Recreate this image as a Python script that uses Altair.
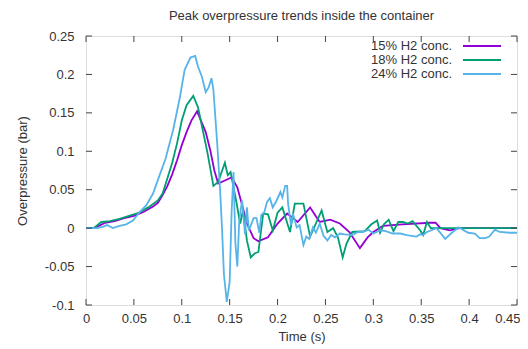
import altair as alt
import pandas as pd

# ---- data ----
t15 = [0, 0.008, 0.015, 0.02, 0.03, 0.04, 0.05, 0.06, 0.07, 0.075, 0.08, 0.085, 0.09, 0.095, 0.1, 0.105, 0.11, 0.116, 0.12, 0.125,
       0.13, 0.134, 0.138, 0.145, 0.152, 0.158, 0.163, 0.168, 0.175, 0.18, 0.19, 0.2, 0.21, 0.221, 0.234, 0.244, 0.255, 0.265, 0.275, 0.286,
       0.294, 0.3, 0.31, 0.33, 0.359, 0.365, 0.37, 0.38, 0.39, 0.45]
p15 = [0, 0, 0.004, 0.007, 0.009, 0.013, 0.016, 0.021, 0.028, 0.033, 0.043, 0.055, 0.07, 0.088, 0.108, 0.125, 0.14, 0.152, 0.14, 0.125,
       0.1, 0.075, 0.058, 0.062, 0.066, 0.053, 0.03, 0.006, -0.013, -0.017, -0.012, 0.006, 0.019, 0.008, 0.027, 0.008, 0.011, 0.006, -0.005, -0.026,
       -0.012, -0.005, 0.003, 0.005, 0.007, 0.007, 0.0, -0.003, 0, 0]

t18 = [0, 0.008, 0.016, 0.025, 0.035, 0.045, 0.055, 0.065, 0.075, 0.08, 0.085, 0.09, 0.095, 0.1, 0.105, 0.112, 0.117, 0.122, 0.127, 0.133,
       0.138, 0.145, 0.148, 0.151, 0.157, 0.161, 0.164, 0.168, 0.172, 0.176, 0.18, 0.185, 0.19, 0.195, 0.2, 0.205, 0.213, 0.218, 0.227, 0.234,
       0.246, 0.252, 0.258, 0.263, 0.268, 0.272, 0.278, 0.291, 0.298, 0.304, 0.307, 0.311, 0.316, 0.321, 0.326, 0.331, 0.336, 0.341, 0.349, 0.352,
       0.356, 0.36, 0.45]
p18 = [0, 0, 0.008, 0.009, 0.012, 0.016, 0.02, 0.027, 0.036, 0.045, 0.065, 0.085, 0.11, 0.14, 0.16, 0.172, 0.157, 0.127, 0.097, 0.055,
       0.06, 0.085, 0.069, 0.073, 0.034, 0.006, 0.023, -0.016, -0.038, -0.033, -0.031, 0.019, 0.018, -0.003, 0.02, 0.027, -0.005, 0.032, 0.032, -0.011,
       0.023, -0.005, 0.0, -0.012, -0.038, -0.02, -0.005, -0.004, 0.005, 0.01, -0.006, 0.005, 0.011, -0.004, 0.008, 0.008, 0.006, 0.009, -0.003, -0.009,
       0.008, 0, 0]

t24 = [0, 0.012, 0.018, 0.022, 0.028, 0.035, 0.042, 0.049, 0.056, 0.063, 0.07, 0.076, 0.083, 0.091, 0.098, 0.103, 0.109, 0.114, 0.117, 0.121,
       0.125, 0.128, 0.131, 0.133, 0.137, 0.14, 0.142, 0.144, 0.147, 0.15, 0.152, 0.154, 0.156, 0.158, 0.16, 0.163, 0.166, 0.168, 0.17, 0.175,
       0.178, 0.181, 0.183, 0.186, 0.189, 0.192, 0.195, 0.199, 0.203, 0.205, 0.208, 0.21, 0.211, 0.214, 0.216, 0.22, 0.223, 0.227, 0.23, 0.233,
       0.237, 0.24, 0.244, 0.248, 0.252, 0.256, 0.26, 0.265, 0.27, 0.278, 0.284, 0.289, 0.295, 0.3, 0.307, 0.313, 0.32, 0.328, 0.335, 0.345,
       0.349, 0.352, 0.356, 0.366, 0.375, 0.382, 0.389, 0.392, 0.399, 0.406, 0.411, 0.417, 0.421, 0.427, 0.432, 0.443, 0.45]
p24 = [0, 0, 0.002, 0.004, 0.0, 0.003, 0.005, 0.01, 0.021, 0.03, 0.045, 0.066, 0.09, 0.128, 0.17, 0.206, 0.222, 0.224, 0.21, 0.197,
       0.177, 0.183, 0.195, 0.18, 0.11, 0.05, 0.0, -0.06, -0.096, -0.07, 0.02, 0.073, -0.02, -0.05, 0.01, 0.036, -0.008, 0.027, -0.003, 0.013,
       0.013, -0.006, 0.017, 0.02, 0.034, 0.039, 0.027, 0.036, 0.047, 0.04, 0.055, 0.055, 0.032, 0.004, 0.019, 0.001, 0.004, -0.022, -0.011, -0.014,
       0.001, -0.006, 0.006, -0.01, -0.016, -0.009, -0.012, -0.007, -0.008, -0.009, -0.005, -0.005, -0.002, -0.007, -0.003, -0.004, -0.007, -0.007, -0.009, -0.011,
       -0.008, -0.009, -0.005, 0.0, -0.014, -0.006, 0.001, -0.001, -0.006, -0.007, -0.013, -0.013, -0.011, -0.002, -0.005, -0.006, -0.006]

series_names = ["15% H2 conc.", "18% H2 conc.", "24% H2 conc."]
series_colors = ["#9400d3", "#009e73", "#56b4e9"]
x_ticks = [0, 0.05, 0.1, 0.15, 0.2, 0.25, 0.3, 0.35, 0.4, 0.45]
y_ticks = [-0.1, -0.05, 0, 0.05, 0.1, 0.15, 0.2, 0.25]
chart_title = ["Peak overpressure trends inside the container"]

# ---- build table ----
frames = []
for name, t, p in zip(series_names, [t15, t18, t24], [p15, p18, p24]):
    frames.append(pd.DataFrame({"t": t, "p": p, "series": name, "i": range(len(t))}))
df = pd.concat(frames, ignore_index=True)

W, H = 431, 269
FONT = "Liberation Sans"
TXT = "#333333"
FRAME = "#444444"
LW = 1.8

xs = alt.Scale(domain=[0, 0.45], nice=False, zero=False)
ys = alt.Scale(domain=[-0.1, 0.25], nice=False, zero=False)
cs = alt.Scale(domain=series_names, range=series_colors)

lab = "replace(format(datum.value, '.2~f'), '\u2212', '-')"
last_x = "datum.value >= 0.449"
xaxis = alt.Axis(values=x_ticks, title="Time (s)", ticks=False, tickSize=0, domain=False, grid=False,
                 labelExpr=lab, labelFlush=False, labelOverlap=False, labelPadding=7, titlePadding=5,
                 labelAlign={"condition": {"test": last_x, "value": "right"}, "value": "center"},
                 labelOffset={"condition": {"test": last_x, "value": 3}, "value": 0},
                 labelFont=FONT, titleFont=FONT,
                 labelFontSize=13, titleFontSize=13, titleFontWeight="normal", labelColor=TXT, titleColor=TXT)
yaxis = alt.Axis(values=y_ticks, title="Overpressure (bar)", ticks=False, tickSize=0, domain=False, grid=False,
                 labelExpr=lab, labelFlush=False, labelOverlap=False, labelPadding=12, titlePadding=15,
                 labelFont=FONT, titleFont=FONT,
                 labelFontSize=13, titleFontSize=13, titleFontWeight="normal", labelColor=TXT, titleColor=TXT)

lines = alt.Chart(df).mark_line(strokeWidth=LW, clip=True).encode(
    x=alt.X("t:Q", scale=xs, axis=xaxis),
    y=alt.Y("p:Q", scale=ys, axis=yaxis),
    color=alt.Color("series:N", scale=cs, legend=None),
    order=alt.Order("i:Q"),
    detail="series:N",
)

xt = pd.DataFrame({"t": x_ticks})
yt = pd.DataFrame({"p": y_ticks})
TK = 6
tick_layers = [
    alt.Chart(yt).mark_rule(color=FRAME).encode(y=alt.Y("p:Q", scale=ys, axis=yaxis), x=alt.value(0), x2=alt.value(TK)),
    alt.Chart(yt).mark_rule(color=FRAME).encode(y=alt.Y("p:Q", scale=ys, axis=yaxis), x=alt.value(W - TK), x2=alt.value(W)),
    alt.Chart(xt).mark_rule(color=FRAME).encode(x=alt.X("t:Q", scale=xs, axis=xaxis), y=alt.value(H), y2=alt.value(H - TK)),
    alt.Chart(xt).mark_rule(color=FRAME).encode(x=alt.X("t:Q", scale=xs, axis=xaxis), y=alt.value(0), y2=alt.value(TK)),
]

legend_layers = []
for k, name in enumerate(series_names):
    ld = pd.DataFrame({"series": [name]})
    yy = 10 + 14 * k
    legend_layers.append(
        alt.Chart(ld).mark_text(align="right", baseline="middle", font=FONT, fontSize=13, color=TXT).encode(
            text="series:N", x=alt.value(366), y=alt.value(yy)))
    legend_layers.append(
        alt.Chart(ld).mark_rule(strokeWidth=LW).encode(
            x=alt.value(377), x2=alt.value(415), y=alt.value(yy),
            color=alt.Color("series:N", scale=cs, legend=None)))

title_layer = alt.Chart(pd.DataFrame({"title": chart_title})).mark_text(
    align="center", baseline="alphabetic", font=FONT, fontSize=13, color=TXT).encode(
    text="title:N", x=alt.value(W / 2), y=alt.value(-16))

chart = alt.layer(lines, *tick_layers, *legend_layers, title_layer).properties(
    width=W, height=H,
    autosize=alt.AutoSizeParams(type="none"),
    padding={"left": 78, "top": 28, "right": 3, "bottom": 41},
).configure_view(stroke=FRAME, strokeWidth=1).configure(background="white")

chart.save("out.html", embed_options={"renderer": "svg", "actions": False})
